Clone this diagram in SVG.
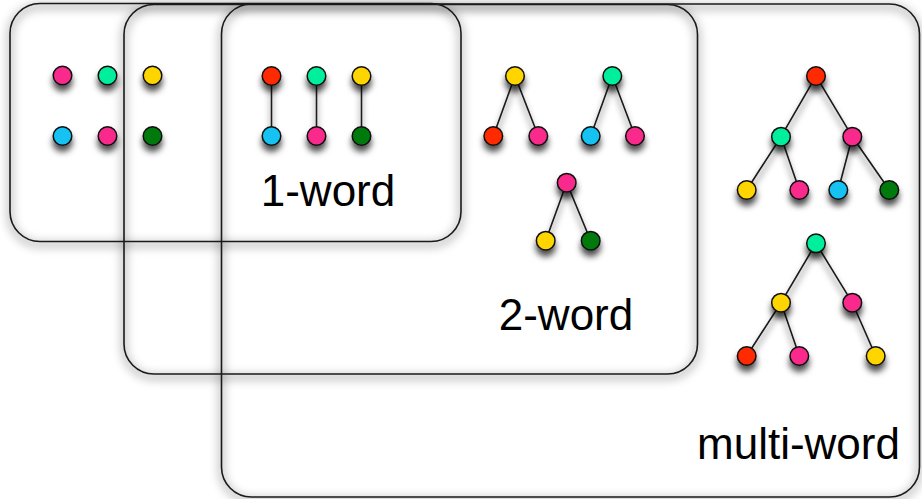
<svg xmlns="http://www.w3.org/2000/svg" width="922" height="499" viewBox="0 0 922 499">
<defs>
<filter id="boxsh" x="-10%" y="-10%" width="120%" height="120%">
<feGaussianBlur stdDeviation="4.5"/>
</filter>
<filter id="nodesh" x="-50%" y="-50%" width="200%" height="220%">
<feDropShadow dx="0" dy="6" stdDeviation="3" flood-color="#000" flood-opacity="0.7"/>
</filter>
<style>
.frame{fill:none;stroke:#1a1a1a;stroke-width:1.6}
.fsh{fill:none;stroke:#000;stroke-opacity:0.2;stroke-width:8}
.n{stroke:#111;stroke-width:1.5}
.e{stroke:#1a1a1a;stroke-width:1.6;fill:none}
.pk{fill:#f92a8b}.gn{fill:#00ef9c}.yl{fill:#ffd500}.bl{fill:#12c2f2}.dg{fill:#007a10}.rd{fill:#ff2a00}
.lbl{font-family:"Liberation Sans",Arial,Helvetica,sans-serif;font-size:44px;fill:#000;text-anchor:middle}
</style>
</defs>
<rect width="922" height="499" fill="#fff"/>
<g id="shadows" filter="url(#boxsh)">
<rect class="fsh" x="221.5" y="7" width="698" height="493" rx="30"/>
<rect class="fsh" x="124" y="7.5" width="573.5" height="369.5" rx="30"/>
<rect class="fsh" x="10" y="6.5" width="451" height="238" rx="30"/>
</g>
<g id="box-multi-word">
<rect class="frame" x="221.5" y="4" width="698" height="493" rx="30"/>
<text class="lbl" x="798.5" y="459">multi-word</text>
</g>
<g id="box-2-word">
<rect class="frame" x="124" y="4.5" width="573.5" height="369.5" rx="30"/>
<text class="lbl" x="566" y="330">2-word</text>
</g>
<g id="box-1-word">
<rect class="frame" x="10" y="3.5" width="451" height="238" rx="30"/>
<text class="lbl" x="328" y="206">1-word</text>
</g>
<g id="connectors" filter="url(#nodesh)">
<line class="e" x1="271.5" y1="76" x2="271.5" y2="136"/>
<line class="e" x1="316.5" y1="76" x2="316.5" y2="136"/>
<line class="e" x1="361.5" y1="76" x2="361.5" y2="136"/>
<polyline class="e" points="493.3,136 515,76 538.3,136"/>
<polyline class="e" points="590.7,136 612.3,76 635,136"/>
<polyline class="e" points="545.7,240.7 566.7,182.7 590.7,240.7"/>
<polyline class="e" points="781,136.7 816,76 852.3,136.7"/>
<polyline class="e" points="746.7,190 781,136.7 799.3,190"/>
<polyline class="e" points="838.3,190 852.3,136.7 889.3,190"/>
<polyline class="e" points="781,302.7 816,243.3 852.3,302.7"/>
<polyline class="e" points="746.7,356 781,302.7 799.3,356"/>
<line class="e" x1="852.3" y1="302.7" x2="875.7" y2="356"/>
</g>
<g id="nodes" filter="url(#nodesh)">
<g id="loose">
<circle class="n pk" cx="62.5" cy="75.5" r="9.3"/>
<circle class="n gn" cx="107.5" cy="75.5" r="9.3"/>
<circle class="n yl" cx="152.5" cy="75.5" r="9.3"/>
<circle class="n bl" cx="62.5" cy="136" r="9.3"/>
<circle class="n pk" cx="107.5" cy="136" r="9.3"/>
<circle class="n dg" cx="152.5" cy="136" r="9.3"/>
</g>
<g id="one-word-trees">
<circle class="n rd" cx="271.5" cy="76" r="9.3"/>
<circle class="n bl" cx="271.5" cy="136" r="9.3"/>
<circle class="n gn" cx="316.5" cy="76" r="9.3"/>
<circle class="n pk" cx="316.5" cy="136" r="9.3"/>
<circle class="n yl" cx="361.5" cy="76" r="9.3"/>
<circle class="n dg" cx="361.5" cy="136" r="9.3"/>
</g>
<g id="two-word-trees">
<circle class="n yl" cx="515" cy="76" r="9.3"/>
<circle class="n rd" cx="493.3" cy="136" r="9.3"/>
<circle class="n pk" cx="538.3" cy="136" r="9.3"/>
<circle class="n gn" cx="612.3" cy="76" r="9.3"/>
<circle class="n bl" cx="590.7" cy="136" r="9.3"/>
<circle class="n pk" cx="635" cy="136" r="9.3"/>
<circle class="n pk" cx="566.7" cy="182.7" r="9.3"/>
<circle class="n yl" cx="545.7" cy="240.7" r="9.3"/>
<circle class="n dg" cx="590.7" cy="240.7" r="9.3"/>
</g>
<g id="multi-word-trees">
<circle class="n rd" cx="816" cy="76" r="9.3"/>
<circle class="n gn" cx="781" cy="136.7" r="9.3"/>
<circle class="n pk" cx="852.3" cy="136.7" r="9.3"/>
<circle class="n yl" cx="746.7" cy="190" r="9.3"/>
<circle class="n pk" cx="799.3" cy="190" r="9.3"/>
<circle class="n bl" cx="838.3" cy="190" r="9.3"/>
<circle class="n dg" cx="889.3" cy="190" r="9.3"/>
<circle class="n gn" cx="816" cy="243.3" r="9.3"/>
<circle class="n yl" cx="781" cy="302.7" r="9.3"/>
<circle class="n pk" cx="852.3" cy="302.7" r="9.3"/>
<circle class="n rd" cx="746.7" cy="356" r="9.3"/>
<circle class="n pk" cx="799.3" cy="356" r="9.3"/>
<circle class="n yl" cx="875.7" cy="356" r="9.3"/>
</g>
</g>
</svg>
